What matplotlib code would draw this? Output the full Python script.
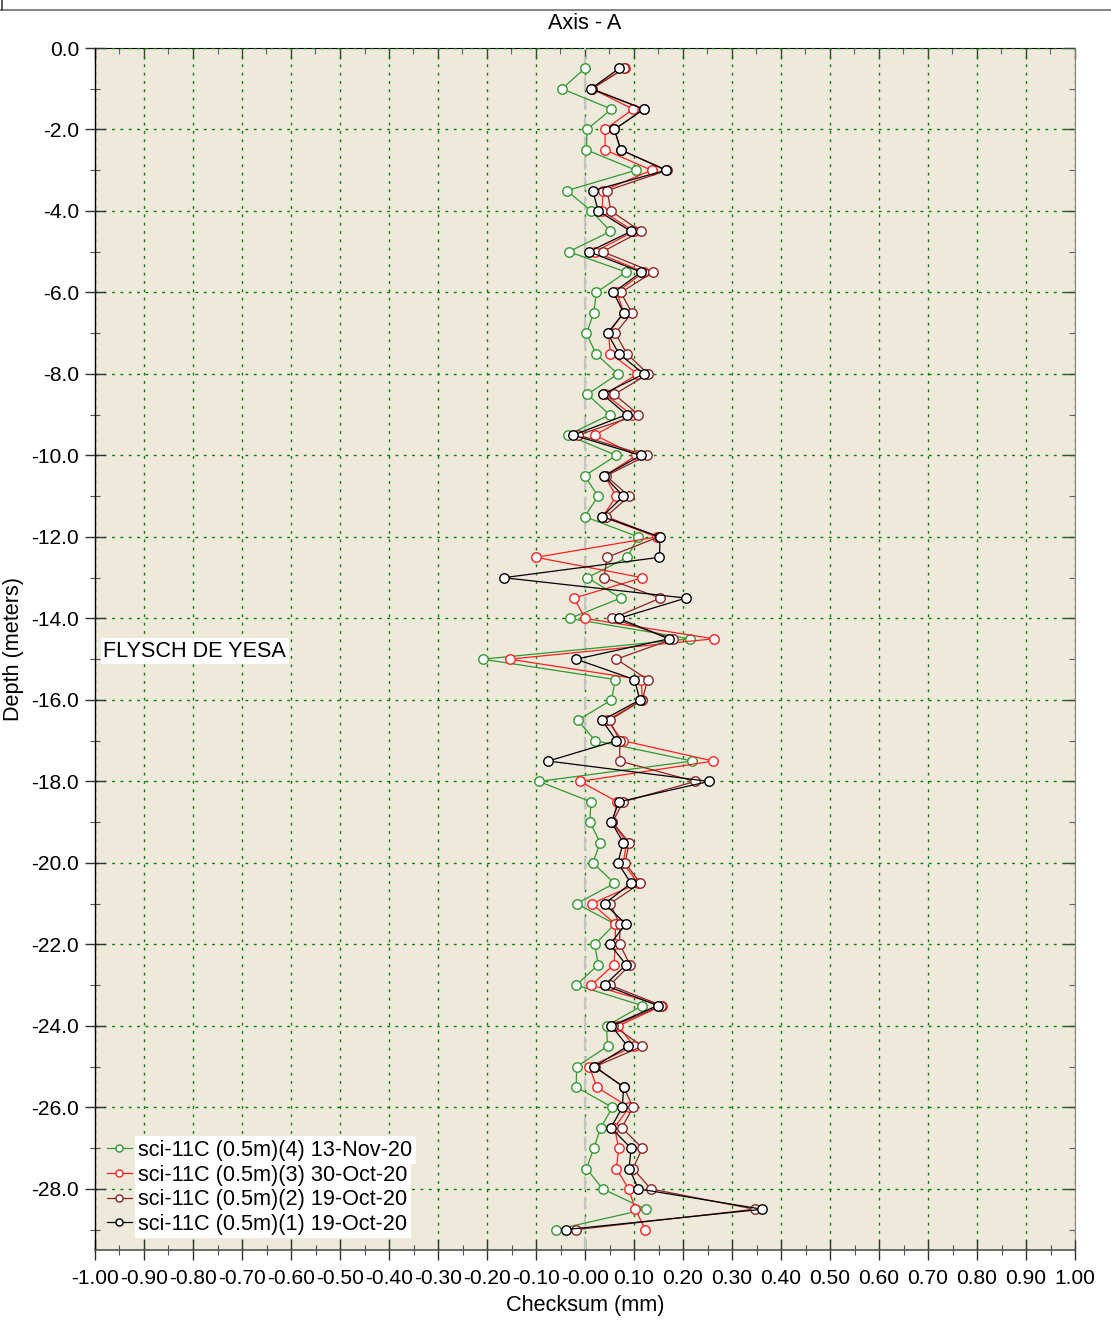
import numpy as np
import matplotlib
matplotlib.use('Agg')
import matplotlib.pyplot as plt
from matplotlib.ticker import MultipleLocator, FixedLocator, FixedFormatter
from matplotlib.lines import Line2D

plt.rcParams['font.family'] = ['Liberation Sans', 'DejaVu Sans']

# depth of each reading (m)
depth = [-0.5, -1.0, -1.5, -2.0, -2.5, -3.0, -3.5, -4.0, -4.5, -5.0,
         -5.5, -6.0, -6.5, -7.0, -7.5, -8.0, -8.5, -9.0, -9.5, -10.0,
         -10.5, -11.0, -11.5, -12.0, -12.5, -13.0, -13.5, -14.0, -14.5, -15.0,
         -15.5, -16.0, -16.5, -17.0, -17.5, -18.0, -18.5, -19.0, -19.5, -20.0,
         -20.5, -21.0, -21.5, -22.0, -22.5, -23.0, -23.5, -24.0, -24.5, -25.0,
         -25.5, -26.0, -26.5, -27.0, -27.5, -28.0, -28.5, -29.0]

# checksum (mm) per survey
s4_13nov = [0.000, -0.047, 0.054, 0.004, 0.003, 0.104, -0.037, 0.013, 0.052, -0.033,
            0.084, 0.023, 0.018, 0.003, 0.022, 0.067, 0.005, 0.050, -0.035, 0.064,
            -0.001, 0.027, -0.001, 0.109, 0.086, 0.005, 0.073, -0.031, 0.214, -0.209,
            0.062, 0.054, -0.015, 0.021, 0.219, -0.094, 0.012, 0.010, 0.031, 0.016,
            0.060, -0.017, 0.061, 0.020, 0.027, -0.018, 0.117, 0.044, 0.046, -0.017,
            -0.018, 0.056, 0.032, 0.018, 0.003, 0.036, 0.124, -0.059]
s3_30oct = [0.081, 0.014, 0.098, 0.041, 0.041, 0.136, 0.037, 0.035, 0.100, 0.020,
            0.120, 0.065, 0.079, 0.048, 0.052, 0.107, 0.041, 0.095, 0.020, 0.105,
            0.040, 0.064, 0.036, 0.146, -0.100, 0.117, -0.022, 0.000, 0.263, -0.154,
            0.115, 0.117, 0.045, 0.077, 0.262, -0.010, 0.066, 0.056, 0.085, 0.078,
            0.108, 0.014, 0.062, 0.062, 0.059, 0.013, 0.158, 0.068, 0.100, 0.009,
            0.024, 0.090, 0.060, 0.069, 0.064, 0.089, 0.103, 0.123]
s2_19oct = [0.080, 0.014, 0.120, 0.060, 0.073, 0.168, 0.045, 0.053, 0.114, 0.036,
            0.139, 0.073, 0.096, 0.062, 0.085, 0.129, 0.060, 0.109, -0.014, 0.126,
            0.043, 0.090, 0.043, 0.150, 0.045, 0.039, 0.154, 0.056, 0.180, 0.064,
            0.128, 0.117, 0.050, 0.071, 0.071, 0.225, 0.078, 0.056, 0.090, 0.082,
            0.113, 0.051, 0.071, 0.071, 0.092, 0.051, 0.156, 0.058, 0.117, 0.020,
            0.079, 0.098, 0.075, 0.117, 0.098, 0.134, 0.346, -0.018]
s1_19oct = [0.070, 0.012, 0.120, 0.060, 0.073, 0.165, 0.016, 0.027, 0.094, 0.008,
            0.115, 0.058, 0.079, 0.046, 0.069, 0.120, 0.036, 0.085, -0.024, 0.114,
            0.039, 0.078, 0.035, 0.153, 0.152, -0.166, 0.206, 0.069, 0.171, -0.018,
            0.101, 0.112, 0.035, 0.064, -0.075, 0.253, 0.069, 0.054, 0.078, 0.067,
            0.094, 0.040, 0.083, 0.051, 0.084, 0.040, 0.148, 0.054, 0.087, 0.019,
            0.079, 0.076, 0.053, 0.094, 0.090, 0.109, 0.362, -0.039]

series_labels = ['sci-11C (0.5m)(4) 13-Nov-20', 'sci-11C (0.5m)(3) 30-Oct-20',
                 'sci-11C (0.5m)(2) 19-Oct-20', 'sci-11C (0.5m)(1) 19-Oct-20']
series_colors = ['#2e9a2e', '#ff1f1f', '#8c2323', '#000000']

x_ticks = [-1.0, -0.9, -0.8, -0.7, -0.6, -0.5, -0.4, -0.3, -0.2, -0.1, 0.0,
           0.1, 0.2, 0.3, 0.4, 0.5, 0.6, 0.7, 0.8, 0.9, 1.0]
x_ticklabels = ['-1.00', '-0.90', '-0.80', '-0.70', '-0.60', '-0.50', '-0.40',
                '-0.30', '-0.20', '-0.10', '-0.00', '0.10', '0.20', '0.30', '0.40',
                '0.50', '0.60', '0.70', '0.80', '0.90', '1.00']
y_ticks = [0, -2, -4, -6, -8, -10, -12, -14, -16, -18, -20, -22, -24, -26, -28]
y_ticklabels = ['%.1f' % v for v in y_ticks]

FS = 15.1      # tick labels
FS_TXT = 15.6  # title, labels, legend, annotation

fig = plt.figure(figsize=(11.11, 13.27), dpi=100)
fig.patch.set_facecolor('white')
ax = fig.add_axes([95 / 1111, 77 / 1327, 980 / 1111, 1202 / 1327])
ax.set_facecolor('#efe9dc')

# outer frame remnant at the top
fig.add_artist(Line2D([0, 1], [1 - 10 / 1327] * 2, color='#707070', lw=1.2))
fig.add_artist(Line2D([1.5 / 1111] * 2, [1 - 10 / 1327, 1], color='#404040', lw=1.2))

ax.axvline(0, color='#c4c4c4', lw=1.6, ls=(0, (6, 3)), zorder=1.5)

for vals, lab, col in zip([s4_13nov, s3_30oct, s2_19oct, s1_19oct], series_labels, series_colors):
    ax.plot(vals, depth, '-o', color=col, lw=0.9, ms=6.8, mfc='white', mec=col,
            mew=1.0, label=lab, zorder=3)

ax.set_xlim(-1.0, 1.0)
ax.set_ylim(-29.5, 0)

ax.xaxis.set_major_locator(FixedLocator(x_ticks))
ax.xaxis.set_major_formatter(FixedFormatter(x_ticklabels))
ax.xaxis.set_minor_locator(MultipleLocator(0.05))
ax.yaxis.set_major_locator(FixedLocator(y_ticks))
ax.yaxis.set_major_formatter(FixedFormatter(y_ticklabels))
ax.yaxis.set_minor_locator(MultipleLocator(1.0))

ax.tick_params(which='major', direction='inout', length=15, width=1.0, color='#303030',
               labelsize=FS)
ax.tick_params(axis='x', which='major', pad=6)
ax.tick_params(axis='y', which='major', pad=4)
ax.tick_params(which='minor', direction='inout', length=7, width=0.8, color='#505050')

ax.grid(which='major', color='#008000', lw=1.0, ls=(0, (2, 4)), zorder=1)
ax.set_axisbelow(True)

for side in ['top', 'right']:
    ax.spines[side].set_visible(False)
ax.spines['left'].set_color('black')
ax.spines['bottom'].set_color('#555555')
ax.spines['left'].set_linewidth(1.0)
ax.spines['bottom'].set_linewidth(1.2)

# inward ticks on top and right edges
top = ax.secondary_xaxis('top')
top.xaxis.set_major_locator(FixedLocator(x_ticks))
top.xaxis.set_minor_locator(MultipleLocator(0.05))
top.tick_params(which='major', direction='in', length=8, width=1.0, color='#404040', labeltop=False)
top.tick_params(which='minor', direction='in', length=4, width=0.8, color='#606060')
top.spines['top'].set_color('black')
right = ax.secondary_yaxis('right')
right.yaxis.set_major_locator(FixedLocator(y_ticks))
right.yaxis.set_minor_locator(MultipleLocator(1.0))
right.tick_params(which='major', direction='in', length=8, width=1.0, color='#404040', labelright=False)
right.tick_params(which='minor', direction='in', length=4, width=0.8, color='#606060')
right.spines['right'].set_color('#808080')

ax.set_xlabel('Checksum (mm)', fontsize=FS_TXT, labelpad=5)
ax.set_ylabel('Depth (meters)', fontsize=FS_TXT, labelpad=5)
ax.set_title('Axis - A', fontsize=FS_TXT, pad=14)

ax.text(-0.983, -14.8, 'FLYSCH DE YESA', fontsize=FS_TXT, va='center', ha='left',
        bbox=dict(facecolor='white', edgecolor='none', pad=2), zorder=4)

leg = ax.legend(loc='lower left', bbox_to_anchor=(0.012, 0.0125), frameon=False,
                fontsize=FS_TXT, handlelength=1.15, handletextpad=0.3,
                labelspacing=0.17, borderpad=0, borderaxespad=0, markerscale=0.75)
leg.set_zorder(5)
for t in leg.get_texts():
    t.set_bbox(dict(facecolor='white', edgecolor='none', pad=2.5))

fig.savefig('out.png', dpi=100, facecolor='white')
